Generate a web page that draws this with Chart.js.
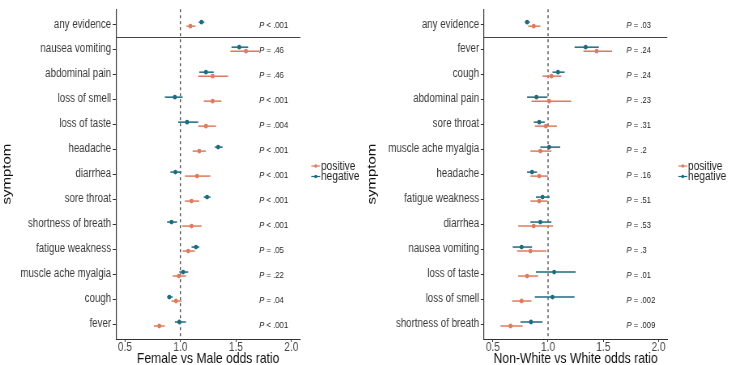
<!DOCTYPE html>
<html>
<head>
<meta charset="utf-8">
<script src="https://cdn.jsdelivr.net/npm/chart.js@4.4.1/dist/chart.umd.min.js"></script>
<style>
  html, body { margin: 0; padding: 0; background: #ffffff; }
  .wrap { display: flex; width: 730px; height: 365px; }
  .cell { position: relative; width: 365px; height: 365px; overflow: hidden; }
  /* the reference is horizontally squeezed; draw wider and squeeze the same way */
  .cell canvas { position: absolute; left: 0; top: 0; transform: scaleX(0.81); transform-origin: 0 0; }
</style>
</head>
<body>
<div class="wrap">
  <div class="cell"><canvas id="chLeft" width="451" height="365"></canvas></div>
  <div class="cell"><canvas id="chRight" width="451" height="365"></canvas></div>
</div>
<script>
// Sex comparison (left panel)
const leftSymptoms = ['any evidence', 'nausea vomiting', 'abdominal pain', 'loss of smell', 'loss of taste', 'headache', 'diarrhea', 'sore throat', 'shortness of breath', 'fatigue weakness', 'muscle ache myalgia', 'cough', 'fever'];
const leftNeg   = [1.19, 1.53, 1.23, 0.95, 1.06, 1.34, 0.955, 1.24, 0.92, 1.14, 1.025, 0.90, 0.99];
const leftNegLo = [1.165, 1.46, 1.17, 0.86, 0.98, 1.31, 0.91, 1.21, 0.88, 1.10, 0.99, 0.88, 0.95];
const leftNegHi = [1.215, 1.61, 1.30, 1.02, 1.16, 1.38, 1.01, 1.27, 0.97, 1.17, 1.07, 0.93, 1.05];
const leftPos   = [1.09, 1.59, 1.29, 1.29, 1.23, 1.17, 1.15, 1.10, 1.10, 1.07, 0.985, 0.96, 0.81];
const leftPosLo = [1.055, 1.45, 1.16, 1.21, 1.16, 1.11, 1.04, 1.04, 1.015, 1.02, 0.93, 0.92, 0.76];
const leftPosHi = [1.135, 1.71, 1.43, 1.37, 1.32, 1.23, 1.27, 1.17, 1.19, 1.13, 1.05, 1.01, 0.86];
const leftP = ['< .001', '= .46', '= .46', '< .001', '= .004', '< .001', '< .001', '< .001', '< .001', '= .05', '= .22', '= .04', '< .001'];

// Race comparison (right panel)
const rightSymptoms = ['any evidence', 'fever', 'cough', 'abdominal pain', 'sore throat', 'muscle ache myalgia', 'headache', 'fatigue weakness', 'diarrhea', 'nausea vomiting', 'loss of taste', 'loss of smell', 'shortness of breath'];
const rightNeg   = [0.81, 1.34, 1.09, 0.895, 0.92, 1.01, 0.855, 0.95, 0.93, 0.76, 1.055, 1.04, 0.845];
const rightNegLo = [0.79, 1.24, 1.04, 0.81, 0.87, 0.93, 0.81, 0.89, 0.84, 0.68, 0.89, 0.88, 0.75];
const rightNegHi = [0.835, 1.46, 1.15, 0.995, 0.97, 1.11, 0.90, 1.015, 1.03, 0.855, 1.25, 1.24, 0.95];
const rightPos   = [0.87, 1.44, 1.03, 1.01, 0.98, 0.93, 0.92, 0.92, 0.87, 0.84, 0.81, 0.76, 0.66];
const rightPosLo = [0.82, 1.32, 0.95, 0.85, 0.88, 0.84, 0.84, 0.84, 0.73, 0.72, 0.73, 0.675, 0.57];
const rightPosHi = [0.93, 1.58, 1.12, 1.21, 1.08, 1.03, 1.0, 0.995, 1.045, 0.985, 0.91, 0.85, 0.77];
const rightP = ['= .03', '= .24', '= .24', '= .23', '= .31', '= .2', '= .16', '= .51', '= .53', '= .3', '= .01', '= .002', '= .009'];

const xTicks = [0.5, 1.0, 1.5, 2.0];
const seriesNames = ['positive', 'negative'];

const SX = 0.81; // horizontal squeeze of the canvas
const POS_COL = '#de7b5e';
const NEG_COL = '#1c6b7f';
const AXIS_COL = '#333333';
const FONT = '"Liberation Sans", Arial, sans-serif';
const DODGE = 0.08;

// error bars, reference lines, p-values, legend
const forestPlugin = {
    id: 'forest',
    beforeDatasetsDraw(chart) {
        const ctx = chart.ctx;
        const xs = chart.scales.x, ys = chart.scales.y;
        const area = chart.chartArea;
        ctx.save();
        // dashed null line
        ctx.strokeStyle = AXIS_COL;
        ctx.lineWidth = 1.2;
        ctx.setLineDash([3, 3]);
        const x1 = xs.getPixelForValue(1);
        ctx.beginPath();
        ctx.moveTo(x1, area.top);
        ctx.lineTo(x1, area.bottom);
        ctx.stroke();
        ctx.setLineDash([]);
        // separator under "any evidence"
        const ySep = Math.round(ys.getPixelForValue(0.5)) + 0.5;
        ctx.strokeStyle = '#444';
        ctx.lineWidth = 1;
        ctx.beginPath();
        ctx.moveTo(area.left, ySep);
        ctx.lineTo(area.right, ySep);
        ctx.stroke();
        // error bars
        chart.data.datasets.forEach(ds => {
            ctx.strokeStyle = ds.borderColor;
            ctx.lineWidth = 1.5;
            ds.lo.forEach((lo, i) => {
                const y = ys.getPixelForValue(ds.data[i].y);
                ctx.beginPath();
                ctx.moveTo(xs.getPixelForValue(lo), y);
                ctx.lineTo(xs.getPixelForValue(ds.hi[i]), y);
                ctx.stroke();
            });
        });
        ctx.restore();
    },
    afterDraw(chart) {
        const ctx = chart.ctx;
        const xs = chart.scales.x, ys = chart.scales.y;
        const opts = chart.options.plugins.forest;
        ctx.save();
        ctx.fillStyle = '#222';
        ctx.textBaseline = 'middle';
        const px = xs.getPixelForValue(1.71);
        opts.pvals.forEach((p, i) => {
            const y = ys.getPixelForValue(i + 0.05);
            ctx.font = 'italic 9.5px ' + FONT;
            ctx.fillText('P', px, y);
            const w = ctx.measureText('P').width;
            ctx.font = '9.5px ' + FONT;
            ctx.fillText(' ' + p, px + w, y);
        });
        // legend
        const lx = chart.chartArea.right + 11 / SX;
        const cols = [POS_COL, NEG_COL];
        seriesNames.forEach((name, k) => {
            const y = 166 + k * 10.5;
            ctx.strokeStyle = cols[k];
            ctx.fillStyle = cols[k];
            ctx.lineWidth = 1.2;
            ctx.beginPath();
            ctx.moveTo(lx, y);
            ctx.lineTo(lx + 11, y);
            ctx.stroke();
            ctx.beginPath();
            ctx.arc(lx + 5.5, y, 1.8, 0, Math.PI * 2);
            ctx.fill();
            ctx.fillStyle = '#222';
            ctx.font = '12.5px ' + FONT;
            ctx.fillText(name, lx + 12, y + 0.5);
        });
        ctx.restore();
    }
};

function makeForest(id, labels, pos, posLo, posHi, neg, negLo, negHi, pvals, xTitle, yWidth, padRight) {
    const ctx = document.getElementById(id).getContext('2d');
    return new Chart(ctx, {
        type: 'scatter',
        data: {
            datasets: [{
                label: 'positive',
                data: pos.map((v, i) => ({ x: v, y: i + DODGE })),
                lo: posLo, hi: posHi,
                backgroundColor: POS_COL,
                borderColor: POS_COL,
                pointRadius: 2.4,
                pointBorderWidth: 0
            }, {
                label: 'negative',
                data: neg.map((v, i) => ({ x: v, y: i - DODGE })),
                lo: negLo, hi: negHi,
                backgroundColor: NEG_COL,
                borderColor: NEG_COL,
                pointRadius: 2.4,
                pointBorderWidth: 0
            }]
        },
        options: {
            responsive: false,
            animation: false,
            devicePixelRatio: 1,
            layout: { padding: { left: 0, right: padRight / SX, top: 3, bottom: 0 } },
            scales: {
                x: {
                    type: 'linear',
                    min: 0.42, max: 2.08,
                    afterBuildTicks: s => { s.ticks = xTicks.map(v => ({ value: v })); },
                    afterFit: s => { s.height = 26; },
                    border: { display: true, color: AXIS_COL, width: 1 },
                    grid: { drawOnChartArea: false, drawTicks: true, tickLength: 3, color: AXIS_COL },
                    ticks: {
                        color: '#444', padding: -2,
                        font: { family: FONT, size: 12.5 },
                        callback: v => v.toFixed(1)
                    },
                    title: {
                        display: true, text: xTitle, color: '#111',
                        padding: { top: -3, bottom: -3 },
                        font: { family: FONT, size: 15 }
                    }
                },
                y: {
                    type: 'linear',
                    reverse: true,
                    min: -0.6, max: 12.6,
                    afterBuildTicks: s => { s.ticks = labels.map((l, i) => ({ value: i })); },
                    afterFit: s => { s.width = yWidth / SX; },
                    border: { display: true, color: AXIS_COL, width: 1.2 },
                    grid: { drawOnChartArea: false, drawTicks: true, tickLength: 4, color: AXIS_COL },
                    ticks: {
                        color: '#3a3a3a', padding: 2,
                        font: { family: FONT, size: 12 },
                        callback: v => labels[v]
                    },
                    title: {
                        display: true, text: 'symptom', color: '#111',
                        padding: 0,
                        font: { family: FONT, size: 15 }
                    }
                }
            },
            plugins: {
                legend: { display: false },
                tooltip: { enabled: false },
                forest: { pvals: pvals }
            }
        },
        plugins: [forestPlugin]
    });
}

makeForest('chLeft', leftSymptoms, leftPos, leftPosLo, leftPosHi, leftNeg, leftNegLo, leftNegHi, leftP,
    'Female vs Male odds ratio', 116, 65);
makeForest('chRight', rightSymptoms, rightPos, rightPosLo, rightPosHi, rightNeg, rightNegLo, rightNegHi, rightP,
    'Non-White vs White odds ratio', 119, 63);
</script>
</body>
</html>
